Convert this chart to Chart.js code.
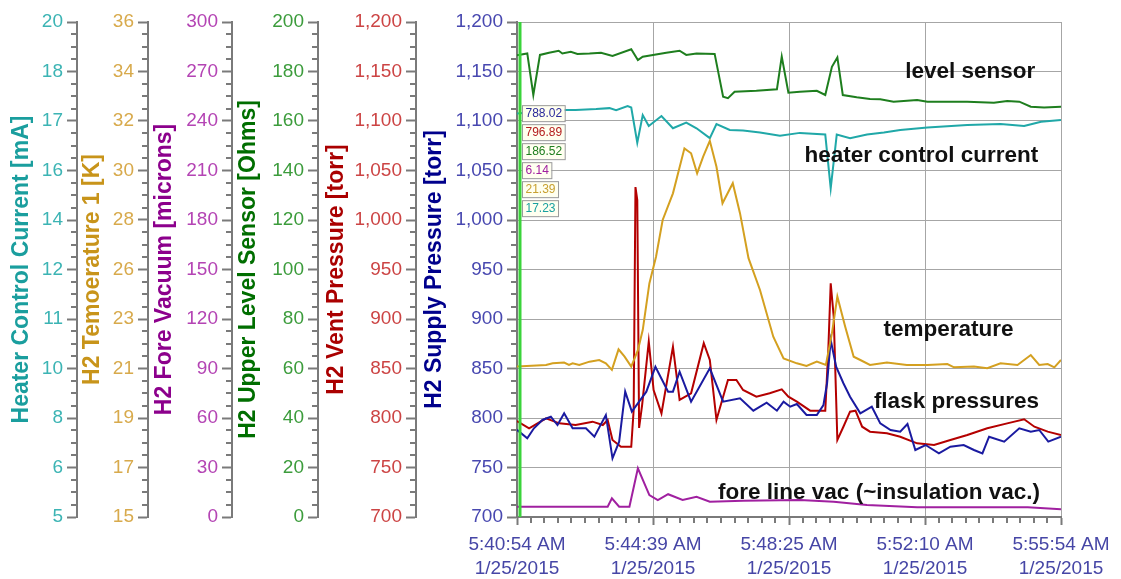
<!DOCTYPE html>
<html>
<head>
<meta charset="utf-8">
<script src="https://cdn.jsdelivr.net/npm/chart.js@4.4.1/dist/chart.umd.min.js"></script>
<style>
    body { margin: 0; background: #fff; }
</style>
</head>
<body>
<canvas id="grafico" width="1121" height="579"></canvas>
<script>
// tempo in secondi da 5:40:54 AM
var xTickValues = [0, 225, 450, 675, 900];
var xTickLabels = [['5:40:54 AM', '1/25/2015'], ['5:44:39 AM', '1/25/2015'], ['5:48:25 AM', '1/25/2015'], ['5:52:10 AM', '1/25/2015'], ['5:55:54 AM', '1/25/2015']];

var heaterLabels = ['5', '6', '8', '10', '11', '12', '14', '16', '17', '18', '20'];
var tempLabels = ['15', '17', '19', '21', '23', '26', '28', '30', '32', '34', '36'];
var foreLabels = ['0', '30', '60', '90', '120', '150', '180', '210', '240', '270', '300'];
var levelLabels = ['0', '20', '40', '60', '80', '100', '120', '140', '160', '180', '200'];
var ventLabels = ['700', '750', '800', '850', '900', '950', '1,000', '1,050', '1,100', '1,150', '1,200'];
var supplyLabels = ['700', '750', '800', '850', '900', '950', '1,000', '1,050', '1,100', '1,150', '1,200'];

var levelT = [0,17,27,38,53,69,75,89,100,120,139,158,189,200,208,225,247,269,280,297,327,341,349,360,396,430,438,449,468,496,510,521,530,539,562,584,601,623,662,679,745,789,811,831,850,872,900];
var levelV = [186.52,187.3,170.5,186.7,187.6,188.4,187.3,188.0,187.1,187.3,187.6,186.3,189.0,184.6,186.0,186.7,187.6,188.4,186.7,187.3,187.1,169.8,169.2,171.8,172.2,172.8,186.0,171.4,171.8,172.2,170.5,181.9,185.7,170.5,169.6,168.9,168.8,167.8,168.5,167.8,167.8,167.4,168.1,167.8,165.8,165.5,165.8];

var heaterT = [0,73,97,131,153,164,183,189,199,208,218,239,258,280,297,319,330,352,374,402,435,468,510,519,529,551,579,607,634,679,745,800,839,867,900];
var heaterV = [17.23,17.33,17.33,17.36,17.39,17.33,17.45,17.41,16.34,17.18,16.85,17.15,16.78,16.95,16.78,16.48,16.91,16.73,16.71,16.65,16.55,16.64,16.59,14.96,16.59,16.48,16.59,16.65,16.73,16.80,16.88,16.91,16.85,16.98,17.03];

var tempT = [0,48,59,78,86,92,103,120,136,147,157,168,178,189,200,208,219,230,241,258,277,288,298,308,319,330,340,357,369,383,402,424,441,463,479,496,511,521,530,543,557,568,584,612,645,679,712,723,756,778,800,828,850,864,878,889,900];
var tempV = [21.39,21.45,21.52,21.55,21.45,21.52,21.45,21.59,21.66,21.52,21.24,22.11,21.80,21.38,22.08,22.93,24.91,26.04,27.60,28.73,30.64,30.43,29.58,30.29,30.96,29.86,28.31,29.16,27.88,25.98,24.63,22.65,21.73,21.52,21.41,21.59,21.45,22.79,24.35,23.07,21.80,21.66,21.45,21.55,21.45,21.45,21.49,21.35,21.38,21.31,21.52,21.45,21.87,21.45,21.49,21.35,21.66];

var ventT = [0,20,48,70,97,125,142,150,158,172,189,193,196,199,202,207,218,226,239,258,269,288,309,319,330,349,363,374,396,418,438,449,463,485,510,515,519,524,530,540,551,560,571,584,612,634,662,690,717,745,778,811,839,856,878,900];
var ventV = [796.89,789.6,799.7,794.6,792.9,796.3,792.9,798.0,777.8,771.0,771.0,808.1,1033.3,1020.2,790,813,877.1,828.3,804.7,872.0,818.2,824.9,875.5,858.6,798.0,838.4,838.4,828.3,821.5,825.0,829.0,821.5,816.5,807.4,807.4,868.7,936.1,902.3,777.8,791.2,806.4,807.4,791.2,786.2,784.5,781.1,774.4,772.7,777.8,782.8,789.6,794.6,798.7,791.2,786.2,782.8];

var supplyT = [0,17,28,42,56,67,78,92,114,128,147,158,169,179,190,214,229,250,258,269,288,319,341,369,391,413,430,441,452,463,479,496,507,513,519,528,540,551,568,587,601,618,634,646,659,676,698,717,739,756,770,781,806,831,850,864,879,900];
var supplyV = [788.02,779.5,789.6,798.0,801.3,792.9,804.7,789.6,789.6,781.1,803.0,759.3,776.1,826.6,806.4,826.6,851.8,826.6,826.6,846.8,816.5,850.2,816.5,819.9,807.4,815.5,807.4,816.5,811.4,814.1,803.0,803.0,813.1,835.1,878.8,851.8,835.1,821.5,804.7,811.4,794.6,787.9,786.2,793.9,767.7,772.7,764.3,771.0,772.7,767.7,764.3,781.1,776.1,789.6,786.2,787.9,776.1,781.1];

var foreT = [0,150,157,169,186,200,219,233,250,274,297,319,374,468,524,579,662,845,900];
var foreV = [6.14,6.2,11.3,6.2,6.2,29.5,13.3,10.3,13.8,10.3,12.3,9.3,9.9,10.3,9.3,7.3,5.9,5.9,4.7];

// scritte sul grafico (tempo, valore sull'asse supply)
var noteTesti = ['level sensor', 'heater control current', 'temperature', 'flask pressures', 'fore line vac (~insulation vac.)'];
var noteT = [750, 669, 714, 727, 599];
var noteV = [1150, 1065, 889, 816, 724];

var FONT = '"Liberation Sans", Arial, sans-serif';
var GRIGIO = '#7a7a7a';

function serie(label, t, v, colore, testo, asse) {
    return {
        label: label,
        data: t.map(function(x, i) { return {x: x, y: v[i]}; }),
        borderColor: colore,
        backgroundColor: testo,
        yAxisID: asse,
        borderWidth: 2,
        pointRadius: 0,
        tension: 0,
        fill: false
    };
}

function asseY(min, max, labels, coloreTick, coloreTitolo, titolo, peso, larghezza, padTitolo, griglia) {
    return {
        type: 'linear',
        position: 'left',
        min: min,
        max: max,
        weight: peso,
        afterBuildTicks: function(scale) {
            var t = [];
            for (var i = 0; i <= 10; i++) t.push({value: min + (max - min) * i / 10});
            scale.ticks = t;
        },
        afterFit: function(scale) { scale.width = larghezza; },
        ticks: {
            autoSkip: false,
            padding: 4,
            color: coloreTick,
            font: {family: FONT, size: 19},
            callback: function(value, index) { return labels[index]; }
        },
        grid: {
            drawOnChartArea: griglia,
            color: '#a6a6a6',
            lineWidth: 1,
            tickLength: 10,
            tickColor: GRIGIO,
            tickWidth: 2
        },
        border: {display: true, color: GRIGIO, width: 2},
        title: {
            display: true,
            text: titolo,
            color: coloreTitolo,
            padding: {top: padTitolo, bottom: 0},
            font: {family: FONT, size: 23, weight: 'bold', lineHeight: 1.2}
        }
    };
}

var extra = {
    id: 'extra',
    afterDatasetsDraw: function(chart) {
        var ctx = chart.ctx;
        var area = chart.chartArea;
        var sx = chart.scales.x;
        var sy = chart.scales.ySupply;
        ctx.save();
        // scritte
        ctx.fillStyle = '#111';
        ctx.font = 'bold 22.5px ' + FONT;
        ctx.textAlign = 'center';
        ctx.textBaseline = 'middle';
        for (var i = 0; i < noteTesti.length; i++) {
            ctx.fillText(noteTesti[i], sx.getPixelForValue(noteT[i]), sy.getPixelForValue(noteV[i]));
        }
        // cursore
        var cx = sx.getPixelForValue(0) + 3;
        ctx.strokeStyle = '#3ad43a';
        ctx.lineWidth = 3;
        ctx.beginPath();
        ctx.moveTo(cx, area.top);
        ctx.lineTo(cx, area.bottom);
        ctx.stroke();
        // valori al cursore: supply, vent, level, fore, temp, heater
        var ds = chart.data.datasets;
        var ordine = [3, 5, 2, 4, 0, 1];
        ctx.font = '12px ' + FONT;
        ctx.textAlign = 'left';
        var y0 = sy.getPixelForValue(1116);
        for (var j = 0; j < ordine.length; j++) {
            var d = ds[ordine[j]];
            var testo = d.data[0].y.toFixed(2);
            var w = ctx.measureText(testo).width + 6;
            var bx = area.left + 5;
            var by = y0 + j * 19;
            ctx.fillStyle = '#fffff0';
            ctx.fillRect(bx, by, w, 16);
            ctx.strokeStyle = '#9a9a9a';
            ctx.lineWidth = 1;
            ctx.strokeRect(bx + 0.5, by + 0.5, w, 16);
            ctx.fillStyle = d.backgroundColor;
            ctx.fillText(testo, bx + 3.5, by + 9);
        }
        ctx.restore();
    },
    afterDraw: function(chart) {
        var ctx = chart.ctx;
        ctx.save();
        ctx.strokeStyle = GRIGIO;
        ctx.lineWidth = 2;
        ctx.beginPath();
        ['yHeater', 'yTemp', 'yFore', 'yLevel', 'yVent', 'ySupply'].forEach(function(id) {
            var s = chart.scales[id];
            for (var i = 1; i < 40; i++) {
                if (i % 4 === 0) continue;
                var y = Math.round(s.getPixelForValue(s.min + (s.max - s.min) * i / 40));
                ctx.moveTo(s.right - 6, y);
                ctx.lineTo(s.right, y);
            }
        });
        var sx = chart.scales.x;
        for (var i = 1; i < 40; i++) {
            if (i % 10 === 0) continue;
            var x = Math.round(sx.getPixelForValue(900 * i / 40));
            ctx.moveTo(x, sx.top);
            ctx.lineTo(x, sx.top + 6);
        }
        ctx.stroke();
        ctx.restore();
    }
};

var chart = new Chart(document.getElementById('grafico'), {
    type: 'line',
    data: {
        datasets: [
            serie('H2 Temoerature 1 [K]', tempT, tempV, '#d4a020', '#c8a030', 'yTemp'),
            serie('Heater Control Current [mA]', heaterT, heaterV, '#20a8a8', '#1aa0a0', 'yHeater'),
            serie('H2 Upper Level Sensor [Ohms]', levelT, levelV, '#1e7e1e', '#1e7e1e', 'yLevel'),
            serie('H2 Supply Pressure [torr]', supplyT, supplyV, '#1a1aa0', '#2a2a9a', 'ySupply'),
            serie('H2 Fore Vacuum [microns]', foreT, foreV, '#a020a0', '#a020a0', 'yFore'),
            serie('H2 Vent Pressure [torr]', ventT, ventV, '#b40000', '#b41e1e', 'yVent')
        ]
    },
    options: {
        responsive: false,
        animation: false,
        events: [],
        layout: {padding: {left: 0, right: 60, top: 22, bottom: 0}},
        plugins: {legend: {display: false}, tooltip: {enabled: false}},
        scales: {
            x: {
                type: 'linear',
                min: 0,
                max: 900,
                afterBuildTicks: function(scale) {
                    scale.ticks = xTickValues.map(function(v) { return {value: v}; });
                },
                afterFit: function(scale) { scale.height = 62; },
                ticks: {
                    autoSkip: false,
                    maxRotation: 0,
                    padding: 8,
                    color: '#4646a6',
                    font: {family: FONT, size: 19, lineHeight: 1.25},
                    callback: function(value, index) { return xTickLabels[index]; }
                },
                grid: {color: '#a6a6a6', lineWidth: 1, tickLength: 8, tickColor: GRIGIO, tickWidth: 2},
                border: {display: true, color: GRIGIO, width: 2}
            },
            yHeater: asseY(5, 20, heaterLabels, '#3cb4b4', '#1a9e9e', 'Heater Control Current [mA]', 6, 77, 8, false),
            yTemp: asseY(15, 36, tempLabels, '#d8aa4c', '#c8941a', 'H2 Temoerature 1 [K]', 5, 71, 1.5, false),
            yFore: asseY(0, 300, foreLabels, '#b444b4', '#8c008c', 'H2 Fore Vacuum [microns]', 4, 84, 2.5, false),
            yLevel: asseY(0, 200, levelLabels, '#3c9c3c', '#006e00', 'H2 Upper Level Sensor [Ohms]', 3, 86, 3, false),
            yVent: asseY(700, 1200, ventLabels, '#cc4444', '#aa0000', 'H2 Vent Pressure [torr]', 2, 98, 4.5, false),
            ySupply: asseY(700, 1200, supplyLabels, '#4848b0', '#00008c', 'H2 Supply Pressure [torr]', 1, 101, 4.5, true)
        }
    },
    plugins: [extra]
});
</script>
</body>
</html>
